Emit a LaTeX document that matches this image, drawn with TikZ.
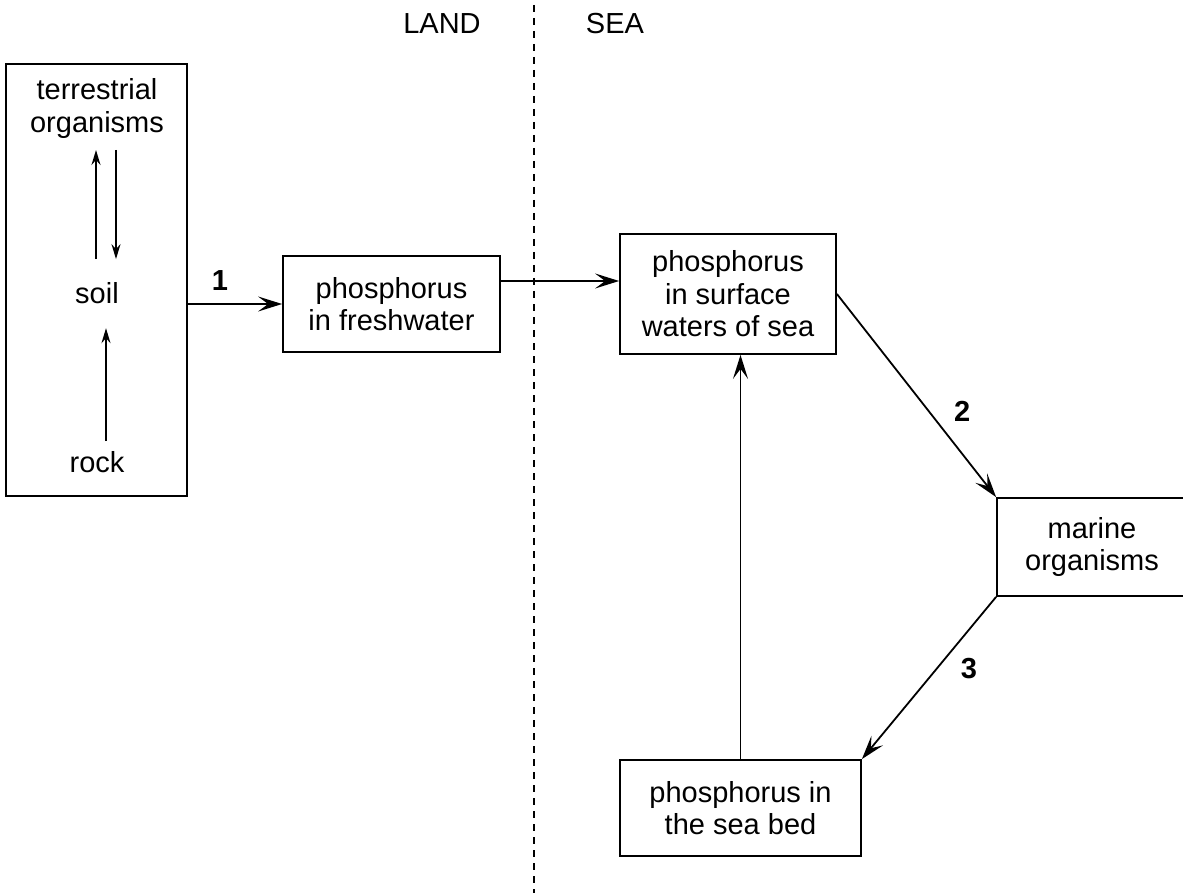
\documentclass[tikz,border=0pt]{standalone}
\usepackage{fontspec}
\setmainfont{Liberation Sans}
\usetikzlibrary{arrows.meta,positioning}

\tikzset{every picture/.style={line width=1.8pt}}
\tikzset{
  box/.style={draw, inner sep=0pt, align=center, font=\fontsize{29}{32.5}\selectfont},
  txt/.style={inner xsep=0pt, align=center, font=\fontsize{29}{32.5}\selectfont},
  flow/.style={-{Stealth[length=24pt,width=15pt,inset=10pt]}},
  smallflow/.style={-{Stealth[length=15pt,width=9pt,inset=5pt]}},
  num/.style={inner sep=0pt, font=\fontsize{29}{32.5}\selectfont\bfseries},
}

\begin{document}
\begin{tikzpicture}[x=1pt,y=1pt,yscale=-1,xscale=1]
\useasboundingbox (0,0) rectangle (1183,893);

%Straight Lines: land / sea border
\draw [dash pattern=on 7pt off 6pt] (534,5) -- (534,893) ;
% Text Node
\node[txt] (landlbl) at (442,24) {LAND};
% Text Node
\node[txt] (sealbl) at (615,24) {SEA};

%Shape: Rectangle (land)
\node[box, minimum width=181pt, minimum height=432pt] (land) at (96.5,280) {};
% Text Node
\node[txt, anchor=south, inner ysep=11pt] (terr) at (97,150) {terrestrial\\organisms};
% Text Node
\node[txt, anchor=base, inner ysep=23pt] (soil) at (97,304) {soil};
% Text Node
\node[txt, anchor=base, inner ysep=9pt] (rock) at (97,472) {rock};

%Shape: Rectangle
\node[box, minimum width=217pt, minimum height=96pt] (fresh) at (391.5,304) {phosphorus\\in freshwater};
%Shape: Rectangle
\node[box, minimum width=216pt, minimum height=120pt] (surf) at (728,294) {phosphorus\\in surface\\waters of sea};
%Shape: Rectangle
\node[box, minimum width=190pt, minimum height=98pt] (marine) at (1092,547) {marine\\organisms};
%Shape: Rectangle
\node[box, minimum width=241pt, minimum height=96pt] (seabed) at (740.5,808) {phosphorus in\\the sea bed};

%Straight Lines inside land
\draw[smallflow] ([xshift=-1pt]soil.north) -- ([xshift=-1pt]terr.south);
\draw[smallflow] ([xshift=19pt]terr.south) -- ([xshift=19pt]soil.north);
\draw[smallflow] ([xshift=9pt]rock.north) -- ([xshift=9pt]soil.south);

%Straight Lines
\draw[flow] (land.east |- fresh.west) -- (fresh.west) node[num, pos=0.34, above=13pt] {1};
\coordinate (fs) at ([yshift=-23pt]fresh.east);
\draw[flow] (fs) -- (fs -| surf.west);
\draw[flow] (surf.east) -- (marine.north west) node[num, pos=0.58, right=24pt] {2};
\draw[flow] (marine.south west) -- (seabed.north east) node[num, pos=0.44, right=23pt] {3};
\draw[flow] (seabed.north) -- (seabed.north |- surf.south);

\end{tikzpicture}
\end{document}
